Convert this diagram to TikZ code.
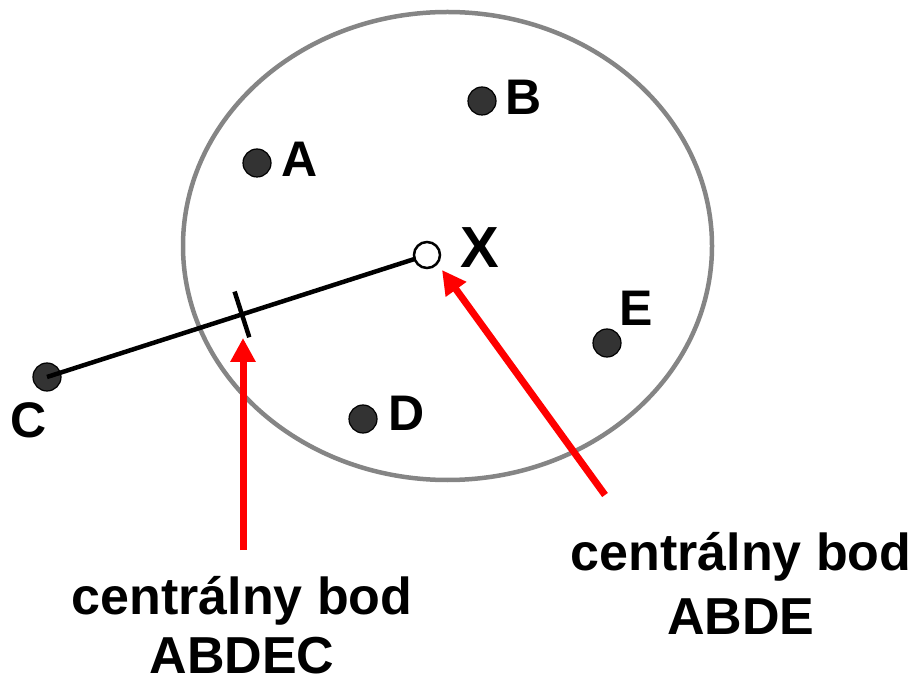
\documentclass[tikz,border=0pt]{standalone}
\usepackage{fontspec}
\setmainfont{Liberation Sans}
\usetikzlibrary{arrows.meta,calc,shapes.geometric}
\definecolor{dotgray}{HTML}{333333}
\definecolor{ringgray}{HTML}{858585}
\definecolor{arrowred}{HTML}{FF0000}
\begin{document}
\begin{tikzpicture}[x=1pt,y=-1pt,
  dot/.style={circle,fill=dotgray,draw=black,line width=1.2pt,minimum size=28pt,inner sep=0pt},
  hollow/.style={circle,fill=white,draw=black,line width=2.5pt,minimum size=26pt,inner sep=0pt},
  lbl/.style={anchor=base,inner sep=0pt,font=\fontsize{50}{60}\selectfont\bfseries},
  biglbl/.style={anchor=base,inner sep=0pt,font=\fontsize{58}{68}\selectfont\bfseries},
  caption/.style={anchor=base,inner sep=0pt,font=\fontsize{52}{62}\selectfont\bfseries},
  redarrow/.style={draw=arrowred,line width=7pt,-{Triangle[width=24pt,length=24pt]}},
  segment/.style={draw=black,line width=4.5pt}
]
\useasboundingbox (0,0) rectangle (921,684);
% ellipse
\node[draw=ringgray,line width=4.5pt,ellipse,minimum width=529pt,minimum height=468pt,inner sep=0pt] (ring) at (447.5,246) {};
% points
\node[dot] (A) at (257,163) {};
\node[dot] (B) at (482,101) {};
\node[dot] (E) at (607,343) {};
\node[dot] (D) at (363,419) {};
\node[dot] (C) at (47,377) {};
% segment C--X
\coordinate (Xc) at (427,255);
\draw[segment] (C.center) -- (Xc);
\node[hollow] (X) at (Xc) {};
% tick mark
\coordinate (T) at ($(C.center)!0.513!(Xc)$);
\draw[segment] ($(T)!24pt!90:(Xc)$) coordinate (T1) -- ($(T)!24pt!-90:(Xc)$) coordinate (T2);
% labels
\node[lbl] (lA) at (300,177) {A};
\node[lbl] (lB) at (524,115) {B};
\node[lbl] (lE) at (636,326) {E};
\node[lbl] (lD) at (407,430) {D};
\node[lbl] (lC) at (29,437) {C};
\node[biglbl] (lX) at (480,268) {X};
% red arrows
\coordinate (a1s) at (243,550);
\coordinate (a1e) at (243,338);
\draw[redarrow] (a1s) -- (a1e);
\coordinate (a2s) at (605,495);
\coordinate (a2e) at (442,270);
\draw[redarrow] (a2s) -- (a2e);
% captions
\node[caption] (c1a) at (242,614) {centrálny bod};
\node[caption] (c1b) at (242,673) {ABDEC};
\node[caption] (c2a) at (741,570) {centrálny bod};
\node[caption] (c2b) at (741,634) {ABDE};
\end{tikzpicture}
\end{document}
